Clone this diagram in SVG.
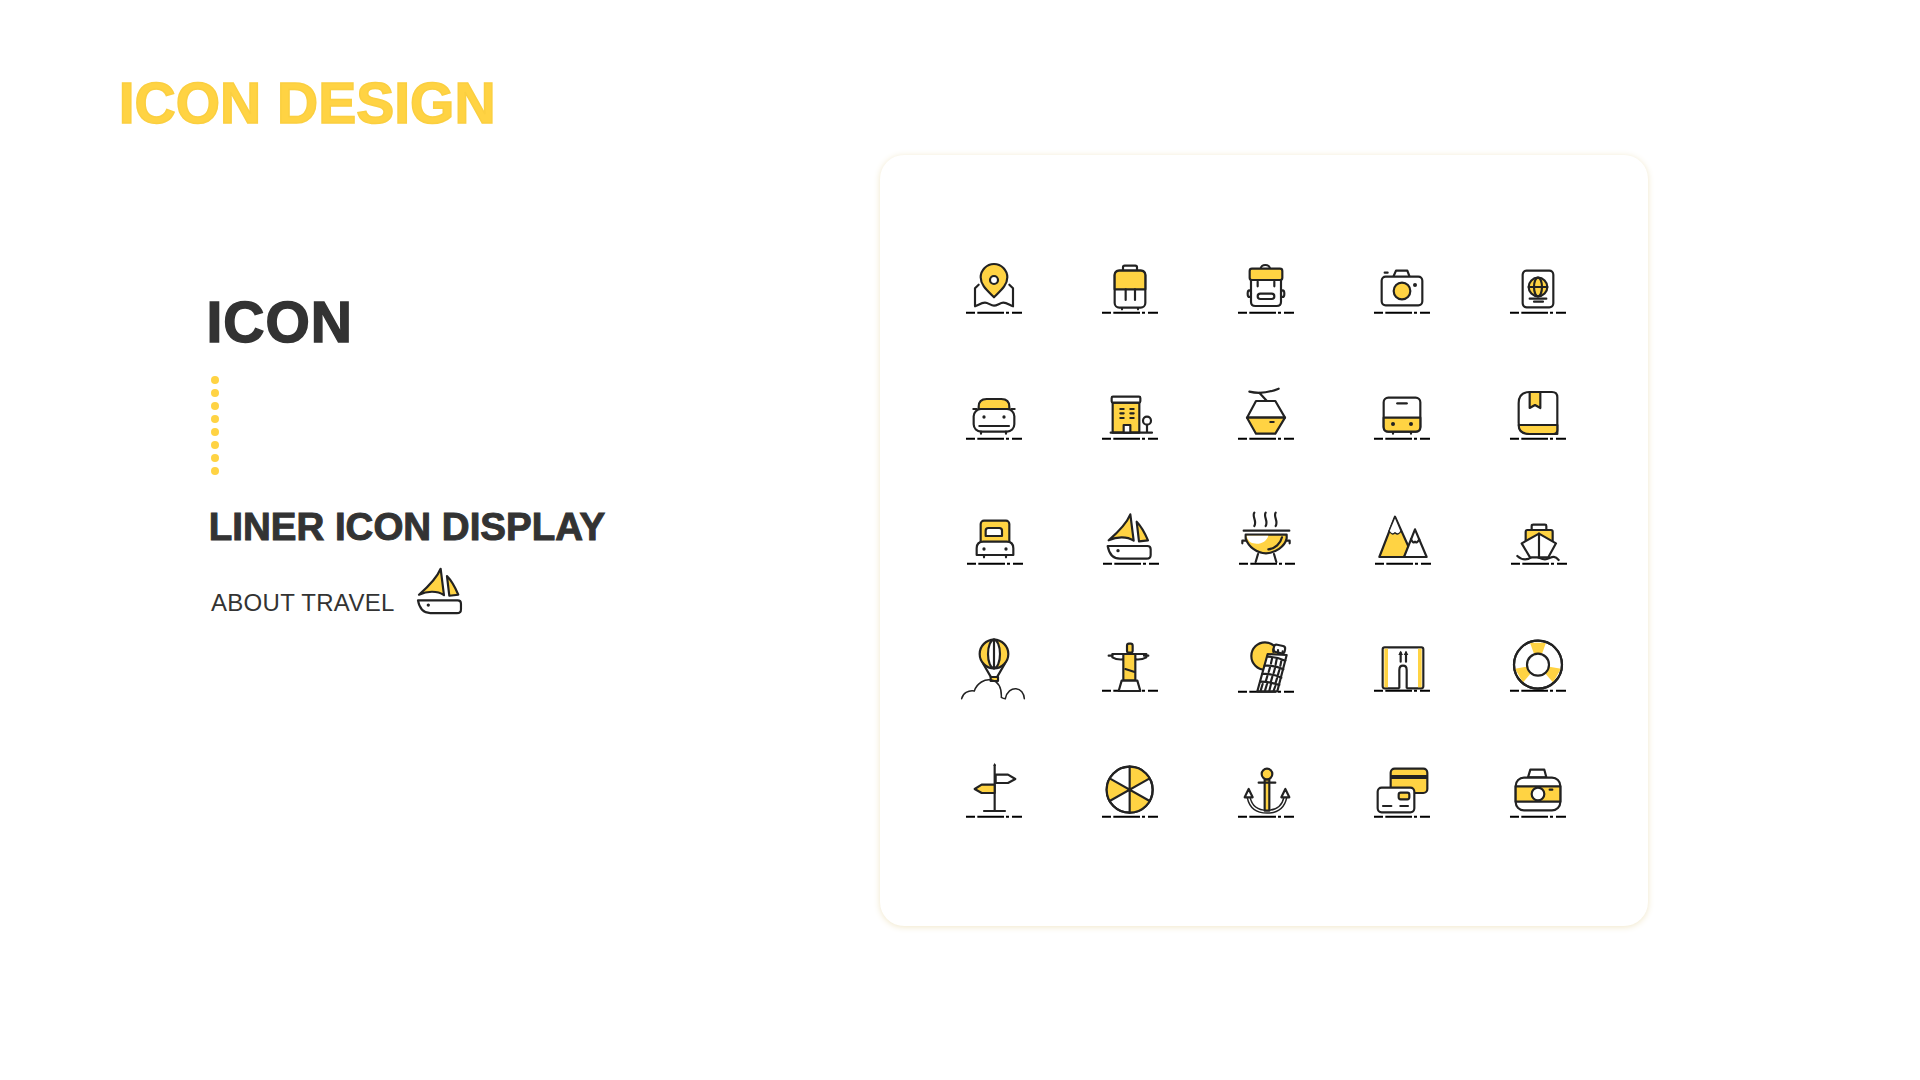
<svg xmlns="http://www.w3.org/2000/svg" width="1920" height="1080" viewBox="0 0 1920 1080">
<style>
text{font-family:"Liberation Sans",Arial,sans-serif}
.h{font-weight:700;fill:#333;stroke:#333}
.s{fill:none;stroke:#222;stroke-width:6.5;stroke-linecap:round;stroke-linejoin:round}
.y{fill:#FFD343;stroke:#222;stroke-width:6.5;stroke-linejoin:round}
.w{fill:#fff;stroke:#222;stroke-width:6.5;stroke-linejoin:round}
.n{fill:#FFD343;stroke:none}
.d{fill:#222;stroke:none}
.g{fill:none;stroke:#000;stroke-width:6}
.t{stroke:#222;stroke-width:4.5;fill:none;stroke-linecap:round}
</style>
<defs>
<path id="gl" class="g" d="M0 0H27M34 0H114M120 0H129M138 0H168"/>
<g id="boat">
<path class="y" d="M571 43C560 70 530 100 506 121C530 110 560 108 581 122Z"/>
<path class="y" d="M590 65L597 124L624 121C615 100 605 80 590 65Z"/>
<path class="w" d="M503 138H622Q632 138 632 148V165Q632 176 620 176H540Q510 176 503 138Z"/>
<circle class="d" cx="534" cy="152" r="5"/>
</g>
</defs>
<rect width="1920" height="1080" fill="#fff"/>
<text x="118.700" y="122.500" font-size="57" fill="#FFD343" stroke="#FBCF40" stroke-width="1.500" font-weight="700">ICON DESIGN</text>
<text class="h" x="206.500" y="342" font-size="57" stroke-width="1.500" letter-spacing="1">ICON</text>
<g fill="#FFD343"><circle cx="215" cy="380" r="4"/><circle cx="215" cy="393" r="4"/><circle cx="215" cy="406" r="4"/><circle cx="215" cy="419" r="4"/><circle cx="215" cy="432" r="4"/><circle cx="215" cy="445" r="4"/><circle cx="215" cy="458" r="4"/><circle cx="215" cy="471" r="4"/></g>
<text class="h" x="208.700" y="540.200" font-size="38.500" stroke-width="1">LINER ICON DISPLAY</text>
<text x="211" y="611" font-size="24" letter-spacing=".3" fill="#333">ABOUT TRAVEL</text>
<use href="#boat" transform="translate(250.300 554.400) scale(.33333)"/>
<rect x="880" y="155" width="768" height="771" rx="24" fill="#fff" style="filter:drop-shadow(0 1px 3px #f0e6c8)"/>
<g id="grounds" transform="scale(.33333)">
<use href="#gl" x="2898" y="938"/><use href="#gl" x="3306" y="938"/><use href="#gl" x="3714" y="938"/><use href="#gl" x="4122" y="938"/><use href="#gl" x="4530" y="938"/>
<use href="#gl" x="2898" y="1316"/><use href="#gl" x="3306" y="1316"/><use href="#gl" x="3714" y="1316"/><use href="#gl" x="4122" y="1316"/><use href="#gl" x="4530" y="1316"/>
<use href="#gl" x="2901" y="1691"/><use href="#gl" x="3309" y="1691"/><use href="#gl" x="3717" y="1691"/><use href="#gl" x="4125" y="1691"/><use href="#gl" x="4533" y="1691"/>
<use href="#gl" x="3306" y="2072"/><use href="#gl" x="3714" y="2075"/><use href="#gl" x="4122" y="2072"/><use href="#gl" x="4530" y="2072"/>
<use href="#gl" x="2898" y="2450"/><use href="#gl" x="3306" y="2450"/><use href="#gl" x="3714" y="2450"/><use href="#gl" x="4122" y="2450"/><use href="#gl" x="4530" y="2450"/>
</g>
<g transform="translate(940 240) scale(.33333)">
<g id="map"><path class="s" d="M116 134L105 145V199C115 195 125 188 135 188C145 188 152 197 162 197C172 197 180 188 190 188C200 188 210 196 219 199V145L208 134"/><path class="y" d="M162 172C140 150 122 135 122 112A40 40 0 0 1 202 112C202 135 184 150 162 172Z"/><circle class="w" cx="162" cy="120" r="12"/></g>
<g id="suitcase"><path class="s" d="M549 92V82Q549 77 554 77H586Q591 77 591 82V92M546 203V208M594 203V208"/><rect class="w" x="524" y="92" width="92" height="111" rx="14"/><path class="y" d="M524 148V106Q524 92 538 92H602Q616 92 616 106V148Z"/><path class="s" d="M557 148V180M585 148V180"/></g>
<g id="backpack"><path class="s" d="M962 87A14 12 0 0 1 990 87"/><path class="w" d="M933 118V185Q933 198 946 198H1010Q1023 198 1023 185V118Z"/><rect class="y" x="929" y="86" width="98" height="34" rx="7"/><rect class="w" x="953" y="161" width="50" height="16" rx="8"/><ellipse class="w" cx="928" cy="161" rx="5" ry="10"/><ellipse class="w" cx="1028" cy="161" rx="5" ry="10"/><path class="s" d="M953 125V139M1003 125V139"/></g>
<g id="taxi"><path class="y" d="M116 508V500Q116 477 140 477H184Q208 477 208 500V508Z"/><rect class="w" x="101" y="507" width="122" height="68" rx="22"/><path class="s" d="M100 507H110M214 507H224M118 558H207M123 575V581M198 575V581"/><circle class="d" cx="132" cy="531" r="5"/><circle class="d" cx="192" cy="531" r="5"/></g>
<g id="hotel"><rect class="y" x="518" y="488" width="80" height="90"/><rect class="w" x="515" y="470" width="86" height="18" rx="4"/><path class="s" d="M541 507H551M571 507H581M541 520H551M571 520H581M541 534H551M571 534H581M512 578H636M621 554V578"/><rect class="w" x="551" y="555" width="20" height="23"/><circle class="w" cx="621" cy="542" r="12"/></g>
<g id="gondola"><path class="s" d="M928 455Q970 465 1016 446M958 458L980 482"/><path class="w" d="M948 483H1006L1035 533H921Z"/><path class="y" d="M921 533H1035L1006 581H948Z"/><path class="s" d="M991 546H1001"/></g>
</g>
<g transform="translate(1300 240) scale(.33333)">
<g id="camera"><path class="s" d="M281 108L288 92H322L328 108M254 98H263"/><rect class="w" x="245" y="110" width="122" height="86" rx="12"/><circle class="y" cx="306" cy="153" r="25"/><circle class="d" cx="345" cy="135" r="6"/></g>
<g id="passport"><rect class="w" x="668" y="92" width="92" height="110" rx="12"/><circle class="y" cx="714" cy="141" r="28"/><ellipse class="s" cx="714" cy="141" rx="12" ry="28"/><path class="s" d="M686 141H742M689 176H739M702 185H729"/></g>
<g id="bus"><path class="s" d="M279 575V581M333 575V581"/><rect class="w" x="251" y="473" width="110" height="102" rx="14"/><path class="y" d="M251 533H361V561Q361 575 347 575H265Q251 575 251 561Z"/><path class="s" style="stroke-width:7" d="M292 490H320"/><circle class="d" cx="279" cy="552" r="6"/><circle class="d" cx="333" cy="552" r="6"/></g>
<g id="book"><path class="w" d="M690 456H756Q772 456 772 472V582H690Q656 582 656 548V490Q656 456 690 456Z"/><path class="y" d="M656 555H772V570Q772 582 760 582H690Q656 582 656 555Z"/><path class="y" d="M689 456V504L705 495L721 504V456Z"/></g>
</g>
<g transform="translate(940 500) scale(.33333)">
<g id="bed"><rect class="y" x="122" y="62" width="86" height="70" rx="10"/><path class="w" d="M137 108V92Q137 84 145 84H178Q186 84 186 92V108Z"/><path class="w" d="M110 165V145Q110 125 130 125H200Q220 125 220 145V165Z"/><path class="s" d="M132 165V172M198 165V172"/><circle class="d" cx="132" cy="147" r="5"/><circle class="d" cx="198" cy="147" r="5"/></g>
<g id="sailboat"><use href="#boat"/></g>
<g id="bbq"><path class="s" d="M943 38C935 50 952 62 943 78M977 38C969 50 986 62 977 78M1007 38C999 50 1016 62 1007 78M911 92H1048M907 130V122H917M1049 130V122H1040M954 162L947 186M1002 162L1009 186"/><path class="y" d="M917 104H1040V115C1035 140 1005 160 978 160C950 160 925 140 917 115Z"/><path d="M920 107H985C980 125 960 135 940 130C930 128 922 118 920 107Z" fill="#fff"/><path class="s" d="M985 148C1005 146 1022 130 1026 112"/></g>
<g id="balloon"><path class="s" d="M130 492L152 530M194 492L172 530"/><circle class="y" cx="162" cy="462" r="43"/><ellipse class="w" cx="162" cy="462" rx="18" ry="43"/><path class="s" d="M162 419V505"/><rect class="y" x="152" y="531" width="22" height="12"/><path class="t" d="M65 596C68 580 85 570 103 573C110 550 135 535 155 540C175 545 185 565 184 592Q190 596 196 596C200 575 215 565 228 566C242 567 252 580 253 596"/></g>
<g id="statue"><rect class="y" x="561" y="431" width="17" height="27" rx="6"/><path class="w" d="M517 462H586L619 462L619 472Q605 480 586 478H550Q530 480 517 472Z"/><path class="s" d="M506 467H517M612 467H625"/><rect class="y" x="550" y="462" width="36" height="80"/><path class="s" d="M556 507L584 516"/><path class="w" d="M545 542H592L601 573H536Z"/></g>
<g id="pisa"><circle class="y" cx="975" cy="468" r="41"/><path class="w" d="M952 574L983 462L1040 465L1012 574Z"/><rect class="w" x="1001" y="436" width="34" height="22" rx="8" transform="rotate(12 1018 447)"/><path class="s" d="M982 470Q1010 470 1036 482M974 497Q1005 495 1030 508M967 522Q998 520 1024 533M960 545Q990 545 1018 555M1000 448V456M1014 450V458M1028 454V460M996 476L993 490M1010 478L1007 493M1024 482L1021 497M990 502L986 516M1005 504L1001 519M1018 510L1014 524M982 528L978 542M997 530L993 544M1011 535L1007 548M962 572L968 552M975 572L981 552M988 572L993 552M1001 572L1006 558"/></g>
</g>
<g transform="translate(1300 500) scale(.33333)">
<g id="mountains"><path class="y" d="M238 171L285 50L330 150L312 171Z"/><path class="w" d="M285 50L267 93Q277 108 285 98Q295 108 303 93Z" style="stroke-width:4"/><path class="w" d="M312 171L345 88L380 171Z"/><path class="s" d="M333 118Q340 132 345 125Q350 132 358 118"/></g>
<g id="ship"><path class="s" d="M695 88V78Q695 74 700 74H735Q739 74 739 78V88"/><rect class="y" x="677" y="90" width="81" height="45" rx="5"/><path class="s" d="M652 168C665 180 680 183 697 170C710 165 720 178 735 178C750 178 760 160 776 180"/><path class="w" d="M717 101L768 130L745 172H690L665 130Z"/><path class="s" d="M717 101V172"/></g>
<g id="shorts"><rect class="w" x="248" y="442" width="122" height="123" rx="6"/><rect class="n" x="253" y="446" width="11" height="116"/><rect class="n" x="354" y="446" width="11" height="116"/><path d="M298 568V510Q298 497 309 497Q320 497 320 510V568Z" fill="#fff"/><path class="s" d="M298 563V510Q298 497 309 497Q320 497 320 510V563M302 485V458M318 485V458"/><path class="d" d="M302 452L295 465H309ZM318 452L311 465H325Z"/></g>
<g id="lifering"><circle class="w" cx="714" cy="494" r="72"/><path id="sec" class="n" d="M690 428H738L726 461H702Z"/><path class="n" d="M690 428H738L726 461H702Z" transform="rotate(120 714 494)"/><path class="n" d="M690 428H738L726 461H702Z" transform="rotate(240 714 494)"/><circle class="s" cx="714" cy="494" r="72"/><circle class="w" cx="714" cy="494" r="33"/></g>
</g>
<g transform="translate(940 740) scale(.33333)">
<g id="signpost"><path class="s" d="M164 75V213M132 213H195"/><path class="d" d="M164 68L160 78H168Z"/><path class="w" d="M167 104H204L226 117L204 129H167Z"/><path class="y" d="M164 134H125L104 147L125 159H164Z"/></g>
<g id="ball"><circle class="w" cx="569" cy="149" r="69"/><path class="n" d="M569 149V80A69 69 0 0 1 629 115ZM569 149L629 183A69 69 0 0 1 569 218ZM569 149L509 183A69 69 0 0 1 509 115Z"/><circle class="s" cx="569" cy="149" r="69"/><path class="s" d="M569 80V218M509 115L629 183M509 183L629 115"/></g>
<g id="anchor"><path fill="none" stroke="#222" stroke-width="13" d="M926 172Q935 215 981 215Q1027 215 1036 172"/><path fill="none" stroke="#fff" stroke-width="4" d="M926 172Q935 215 981 215Q1027 215 1036 172"/><path class="w" d="M926 147L914 172H938Z"/><path class="w" d="M1036 147L1024 172H1048Z"/><rect class="y" x="974" y="118" width="14" height="94"/><circle class="y" cx="981" cy="102" r="16"/><path class="s" d="M956 128H1006"/></g>
</g>
<g transform="translate(1300 740) scale(.33333)">
<g id="cards"><rect class="y" x="272" y="86" width="110" height="73" rx="12"/><rect class="d" x="272" y="105" width="110" height="12"/><rect class="w" x="233" y="143" width="110" height="74" rx="12"/><rect class="y" x="296" y="158" width="32" height="20" rx="6"/><path class="s" d="M249 198H274M301 198H324"/></g>
<g id="oldcamera"><path class="w" d="M684 112L691 89H733L739 112Z"/><rect class="w" x="647" y="113" width="134" height="98" rx="25"/><rect class="y" x="647" y="139" width="134" height="46"/><circle class="w" cx="714" cy="162" r="19"/><path class="s" d="M749 149H757"/></g>
</g>
</svg>
